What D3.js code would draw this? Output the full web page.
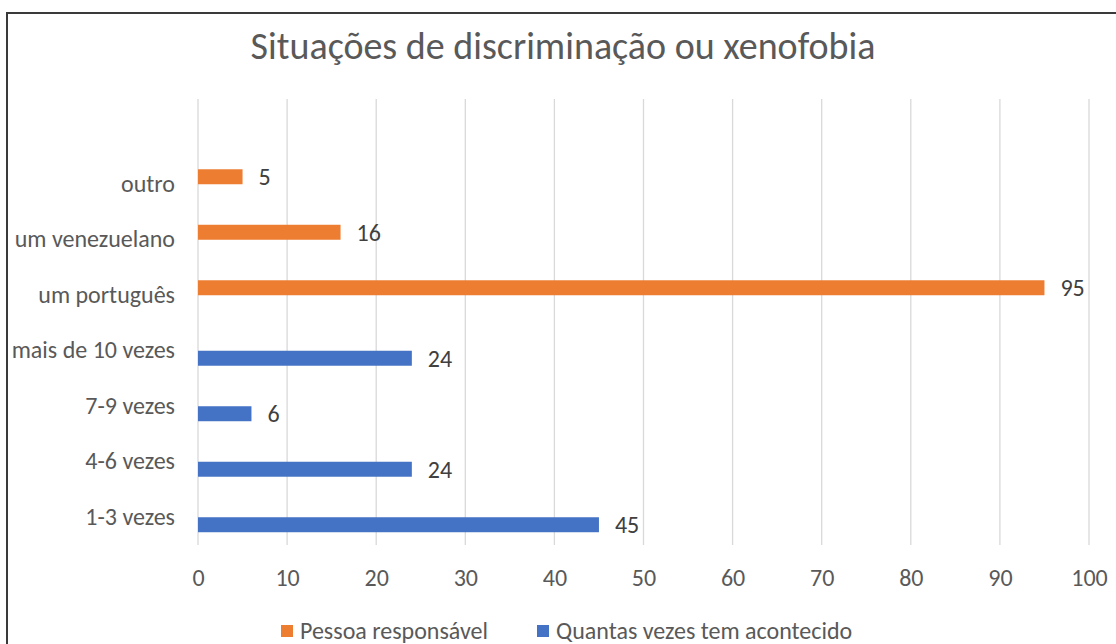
<!DOCTYPE html>
<html>
<head>
<meta charset="utf-8">
<script src="https://cdn.jsdelivr.net/npm/d3@7"></script>
<style>
  html, body { margin: 0; padding: 0; background: #fff; }
  svg { display: block; font-family: Calibri, Carlito, "Open Sans", sans-serif; }
</style>
</head>
<body>
<div id="chart"></div>
<script>
// categories from bottom to top, as in the picture
const categories = ['1-3 vezes', '4-6 vezes', '7-9 vezes', 'mais de 10 vezes', 'um português', 'um venezuelano', 'outro'];
const seriesNames = ['Pessoa responsável', 'Quantas vezes tem acontecido'];
const pessoaValues = [null, null, null, null, 95, 16, 5];
const quantasValues = [45, 24, 6, 24, null, null, null];
const xTicks = [0, 10, 20, 30, 40, 50, 60, 70, 80, 90, 100];
const title = 'Situações de discriminação ou xenofobia';

const colors = { 'Pessoa responsável': '#ED7D31', 'Quantas vezes tem acontecido': '#4472C4' };

const width = 1116, height = 644;
const plot = { left: 198, right: 1089, top: 99, bottom: 545 };
const step = 55.5;
const fontFamily = 'Calibri, Carlito, "Open Sans", sans-serif';

const svg = d3.select('#chart').append('svg').attr('width', width).attr('height', height);

// chart frame (cropped on right and bottom)
svg.append('path')
  .attr('d', `M7,${height + 2} L7,13 L${width + 2},13`)
  .attr('fill', 'none')
  .attr('stroke', '#3a3a3a')
  .attr('stroke-width', 2);

svg.append('text')
  .attr('x', 563)
  .attr('y', 59)
  .attr('text-anchor', 'middle')
  .style('font-size', '38px')
  .style('fill', '#595959')
  .text(title);

const x = d3.scaleLinear().domain([0, 100]).range([plot.left, plot.right]);

const y = d3.scaleBand()
  .domain(categories)
  .range([plot.bottom, plot.bottom - step * categories.length])
  .paddingInner(0.46)
  .paddingOuter(0.23);

const ySub = d3.scaleBand().domain(seriesNames).range([0, y.bandwidth()]);

// gridlines
svg.append('g')
  .selectAll('line')
  .data(xTicks)
  .join('line')
  .attr('x1', d => x(d)).attr('x2', d => x(d))
  .attr('y1', plot.top).attr('y2', plot.bottom)
  .attr('stroke', '#d9d9d9')
  .attr('stroke-width', 1.3);

// x axis labels
const xAxis = svg.append('g')
  .attr('transform', `translate(0,${plot.bottom})`)
  .call(d3.axisBottom(x).tickValues(xTicks).tickSize(0).tickPadding(24));
xAxis.select('.domain').remove();
xAxis.selectAll('text')
  .style('font-family', fontFamily)
  .style('font-size', '24px')
  .style('fill', '#595959');

// y axis labels
const yAxis = svg.append('g')
  .attr('transform', `translate(${plot.left},0)`)
  .call(d3.axisLeft(y).tickSize(0).tickPadding(23));
yAxis.select('.domain').remove();
yAxis.selectAll('text')
  .style('font-family', fontFamily)
  .style('font-size', '24px')
  .style('fill', '#595959');

const rows = categories.map((c, i) => ({ cat: c, vals: [pessoaValues[i], quantasValues[i]] }));
const barData = [];
rows.forEach(r => r.vals.forEach((v, j) => {
  if (v != null) barData.push({ cat: r.cat, series: seriesNames[j], value: v });
}));

svg.append('g')
  .selectAll('rect')
  .data(barData)
  .join('rect')
  .attr('x', x(0))
  .attr('y', d => y(d.cat) + ySub(d.series))
  .attr('width', d => x(d.value) - x(0))
  .attr('height', ySub.bandwidth())
  .attr('fill', d => colors[d.series]);

svg.append('g')
  .selectAll('text')
  .data(barData)
  .join('text')
  .attr('x', d => x(d.value) + 16)
  .attr('y', d => y(d.cat) + ySub(d.series) + ySub.bandwidth() / 2)
  .attr('dy', '0.35em')
  .style('font-size', '24px')
  .style('fill', '#404040')
  .text(d => d.value);

// legend
const legend = svg.append('g');
const legendX = [281, 537];
seriesNames.forEach((s, i) => {
  legend.append('rect')
    .attr('x', legendX[i]).attr('y', 625)
    .attr('width', 12).attr('height', 12)
    .attr('fill', colors[s]);
  legend.append('text')
    .attr('x', legendX[i] + 19).attr('y', 631)
    .attr('dy', '0.35em')
    .style('font-size', '24px')
    .style('fill', '#595959')
    .text(s);
});
</script>
</body>
</html>
